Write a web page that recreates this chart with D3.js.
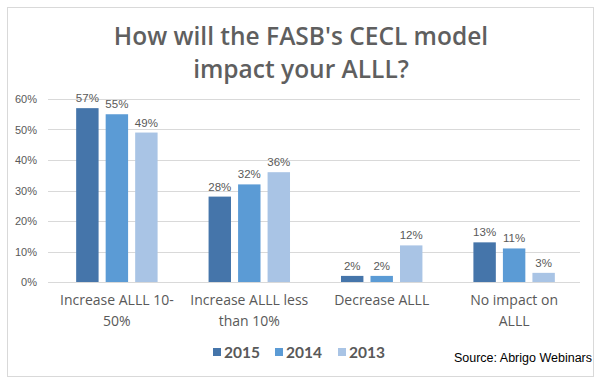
<!DOCTYPE html>
<html>
<head>
<meta charset="utf-8">
<script src="https://cdn.jsdelivr.net/npm/d3@7"></script>
<style>
  body { margin: 0; background: #fff; }
</style>
</head>
<body>
<div id="chart"></div>
<script>
// chart data
var categories = ["Increase ALLL 10-50%", "Increase ALLL less than 10%", "Decrease ALLL", "No impact on ALLL"];
var categoryLines = [["Increase ALLL 10-", "50%"], ["Increase ALLL less", "than 10%"], ["Decrease ALLL"], ["No impact on", "ALLL"]];
var years = ["2015", "2014", "2013"];
var values2015 = [57, 28, 2, 13];
var values2014 = [55, 32, 2, 11];
var values2013 = [49, 36, 12, 3];
var yTicks = [0, 10, 20, 30, 40, 50, 60];
var titleLines = ["How will the FASB's CECL model", "impact your ALLL?"];
var sourceText = "Source: Abrigo Webinars";

var colors = ["#4575aa", "#5b9bd5", "#a9c4e5"];
var series = [values2015, values2014, values2013];

var W = 602, H = 384;
var margin = { top: 99, left: 51, right: 22, bottom: 102 };
var width = W - margin.left - margin.right,
    height = H - margin.top - margin.bottom;

var svg = d3.select("#chart")
    .append("svg")
    .attr("width", W)
    .attr("height", H);

// outer frame
svg.append("rect")
    .attr("x", 7.5).attr("y", 7.5)
    .attr("width", 586).attr("height", 369)
    .attr("fill", "#fff")
    .attr("stroke", "#d9d9d9");

// title
svg.append("g").selectAll("text")
    .data(titleLines)
    .enter()
    .append("text")
    .attr("x", 301)
    .attr("y", function(d, i) { return 45 + i * 33; })
    .attr("text-anchor", "middle")
    .style("font-family", "'Open Sans', sans-serif")
    .style("font-size", "24.5px")
    .style("font-weight", "600")
    .style("fill", "#5f5f5f")
    .text(function(d) { return d; });

var g = svg.append("g")
    .attr("transform", "translate(" + margin.left + "," + margin.top + ")");

var x0 = d3.scaleBand()
    .domain(categories)
    .range([0, width])
    .paddingInner(0.385)
    .paddingOuter(0.19);

var x1 = d3.scaleBand()
    .domain(years)
    .range([0, x0.bandwidth()])
    .paddingInner(0.24);

var y = d3.scaleLinear()
    .domain([0, 60])
    .range([height, 0]);

// gridlines
g.append("g")
    .selectAll("line")
    .data(yTicks)
    .enter()
    .append("line")
    .attr("x1", -3)
    .attr("x2", width)
    .attr("y1", function(d) { return Math.round(y(d)) + 0.5; })
    .attr("y2", function(d) { return Math.round(y(d)) + 0.5; })
    .attr("stroke", "#d9d9d9");

// y axis labels
var yAxis = g.append("g")
    .attr("transform", "translate(-11,0)")
    .call(d3.axisLeft(y).tickValues(yTicks).tickSize(0).tickFormat(function(d) { return d + "%"; }));
yAxis.select(".domain").remove();
yAxis.selectAll("text")
    .style("font-family", "'Liberation Sans', Arial, sans-serif")
    .style("font-size", "11px")
    .style("fill", "#595959");

// bars
var groups = g.append("g")
    .selectAll("g")
    .data(categories)
    .enter()
    .append("g")
    .attr("transform", function(d) { return "translate(" + x0(d) + ",0)"; });

groups.selectAll("rect")
    .data(function(d, i) {
        return years.map(function(yr, j) { return { year: yr, value: series[j][i], k: j }; });
    })
    .enter()
    .append("rect")
    .attr("x", function(d) { return x1(d.year); })
    .attr("y", function(d) { return y(d.value); })
    .attr("width", x1.bandwidth())
    .attr("height", function(d) { return height - y(d.value); })
    .attr("fill", function(d) { return colors[d.k]; });

groups.selectAll("text")
    .data(function(d, i) {
        return years.map(function(yr, j) { return { year: yr, value: series[j][i] }; });
    })
    .enter()
    .append("text")
    .attr("x", function(d) { return x1(d.year) + x1.bandwidth() / 2; })
    .attr("y", function(d) { return y(d.value) - 6; })
    .attr("text-anchor", "middle")
    .style("font-family", "'Liberation Sans', Arial, sans-serif")
    .style("font-size", "11.5px")
    .style("fill", "#595959")
    .text(function(d) { return d.value + "%"; });

// category labels
var xl = g.append("g")
    .selectAll("text")
    .data(categories)
    .enter()
    .append("text")
    .attr("x", function(d) { return x0(d) + x0.bandwidth() / 2; })
    .attr("y", height + 23)
    .attr("text-anchor", "middle")
    .style("font-family", "'Open Sans', sans-serif")
    .style("font-size", "14px")
    .style("fill", "#595959");

xl.selectAll("tspan")
    .data(function(d, i) { return categoryLines[i]; })
    .enter()
    .append("tspan")
    .attr("x", function() { return d3.select(this.parentNode).attr("x"); })
    .attr("dy", function(d, i) { return i === 0 ? 0 : 21; })
    .text(function(d) { return d; });

// legend
var legendX = [213, 275, 338];
var legend = svg.append("g")
    .selectAll("g")
    .data(years)
    .enter()
    .append("g")
    .attr("transform", function(d, i) { return "translate(" + legendX[i] + ",348)"; });

legend.append("rect")
    .attr("width", 8)
    .attr("height", 8)
    .attr("fill", function(d, i) { return colors[i]; });

legend.append("text")
    .attr("x", 11)
    .attr("y", 10)
    .style("font-family", "Lato, sans-serif")
    .style("font-weight", "bold")
    .style("font-size", "15.5px")
    .style("fill", "#595959")
    .text(function(d) { return d; });

// source
svg.append("text")
    .attr("x", 592)
    .attr("y", 362)
    .attr("text-anchor", "end")
    .style("font-family", "'Liberation Sans', Arial, sans-serif")
    .style("font-size", "12.5px")
    .style("fill", "#000")
    .text(sourceText);
</script>
</body>
</html>
